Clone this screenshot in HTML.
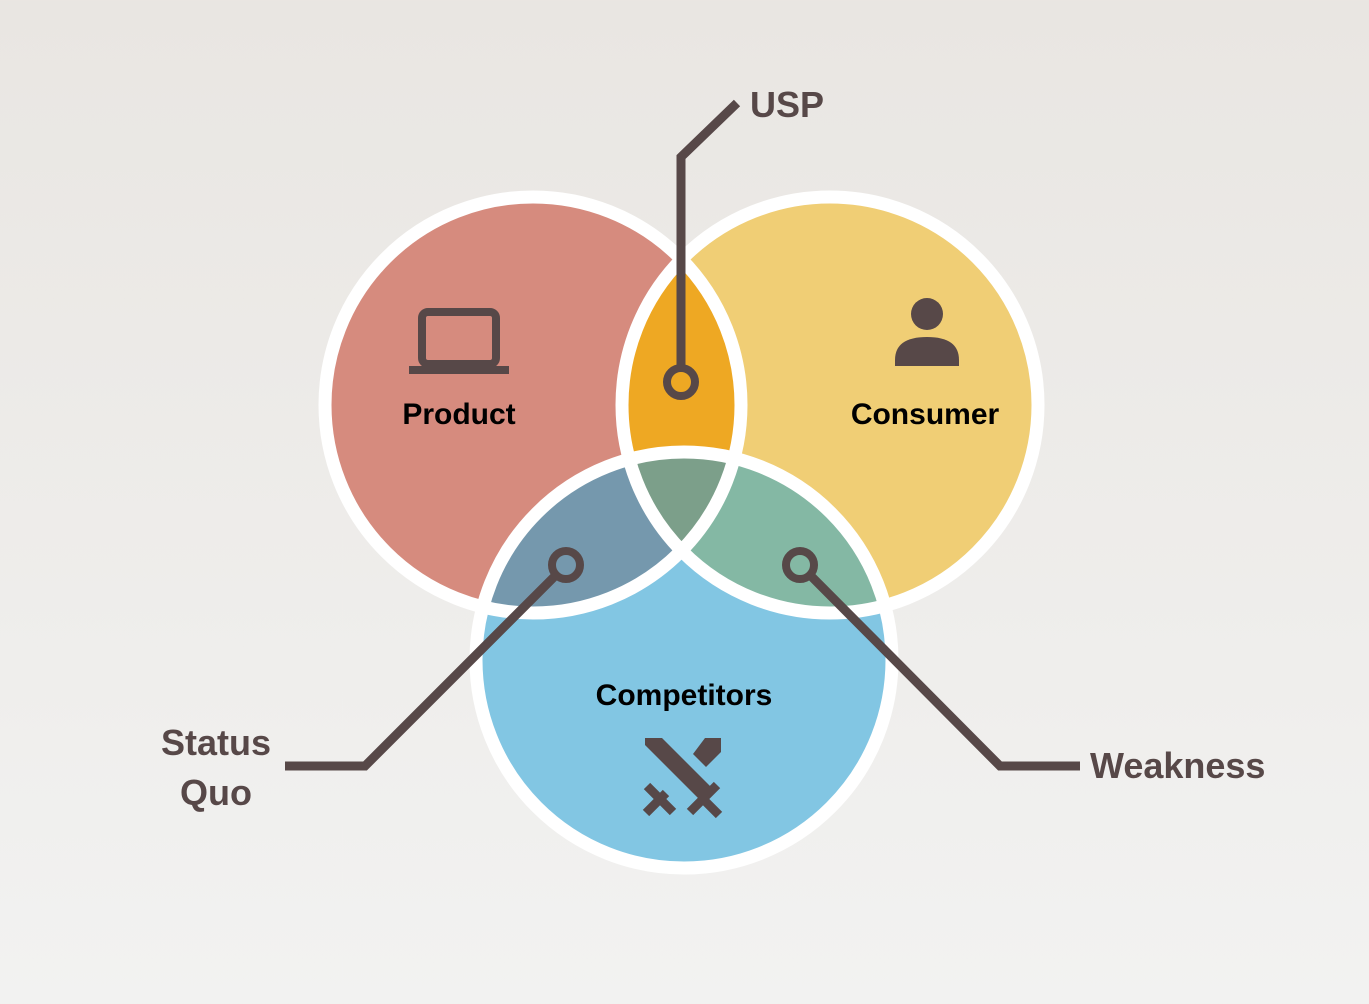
<!DOCTYPE html>
<html><head><meta charset="utf-8"><style>
html,body{margin:0;padding:0;width:1369px;height:1004px;overflow:hidden}
body{background:linear-gradient(#e9e6e2,#f2f2f1);}
text{font-family:"Liberation Sans","DejaVu Sans",sans-serif;font-weight:bold}
</style></head><body>
<svg width="1369" height="1004" viewBox="0 0 1369 1004" xmlns="http://www.w3.org/2000/svg">
<defs>
<clipPath id="cP"><circle cx="533" cy="405" r="208"/></clipPath>
<clipPath id="cC"><circle cx="830" cy="405" r="208"/></clipPath>
<clipPath id="cK"><circle cx="684" cy="660" r="208"/></clipPath>
</defs>
<circle cx="533" cy="405" r="208" fill="#d68b7e"/>
<circle cx="830" cy="405" r="208" fill="#f0ce75"/>
<circle cx="684" cy="660" r="208" fill="#82c6e3"/>
<g clip-path="url(#cP)"><circle cx="830" cy="405" r="208" fill="#eea823"/><circle cx="684" cy="660" r="208" fill="#7598ad"/></g>
<g clip-path="url(#cC)"><circle cx="684" cy="660" r="208" fill="#84b8a4"/></g>
<g clip-path="url(#cP)"><g clip-path="url(#cC)"><circle cx="684" cy="660" r="208" fill="#7c9f8a"/></g></g>
<g fill="none" stroke="#fff" stroke-width="13">
<circle cx="533" cy="405" r="208"/>
<circle cx="830" cy="405" r="208"/>
<circle cx="684" cy="660" r="208"/>
</g>
<g fill="none" stroke="#574848" stroke-width="9">
<polyline points="681,368 681,157 737,103"/>
<circle cx="681" cy="382" r="14" stroke-width="8"/>
<polyline points="556,575 365,766 285,766"/>
<circle cx="566" cy="565" r="14" stroke-width="8"/>
<polyline points="810,575 1000,766 1080,766"/>
<circle cx="800" cy="565" r="14" stroke-width="8"/>
</g>
<!-- laptop -->
<rect x="422" y="312" width="74" height="52" rx="6" fill="none" stroke="#574848" stroke-width="8"/>
<rect x="409" y="366" width="100" height="8" fill="#574848"/>
<!-- person -->
<circle cx="927" cy="314" r="16" fill="#574848"/>
<path d="M895 366 V360 Q895 337 927 337 Q959 337 959 360 V366 Z" fill="#574848"/>
<!-- swords -->
<g fill="#574848">
<polygon points="645,738 662,738 712,788 700,800 645,745"/>
<polygon points="705,738 721,738 721,752 706,767 693,754"/>
</g>
<g stroke="#574848" stroke-width="9" stroke-linecap="butt">
<line x1="690" y1="812" x2="717" y2="785"/>
<line x1="700" y1="796" x2="719" y2="815"/>
<line x1="647" y1="786" x2="673" y2="812"/>
<line x1="646" y1="813" x2="666" y2="793"/>
</g>
<g fill="#000" font-size="30">
<text x="459" y="424" text-anchor="middle">Product</text>
<text x="925" y="424" text-anchor="middle">Consumer</text>
<text x="684" y="705" text-anchor="middle">Competitors</text>
</g>
<g fill="#574848" font-size="36">
<text x="750" y="117">USP</text>
<text x="216" y="755" text-anchor="middle">Status</text>
<text x="216" y="805" text-anchor="middle">Quo</text>
<text x="1090" y="778">Weakness</text>
</g>
</svg>
</body></html>
